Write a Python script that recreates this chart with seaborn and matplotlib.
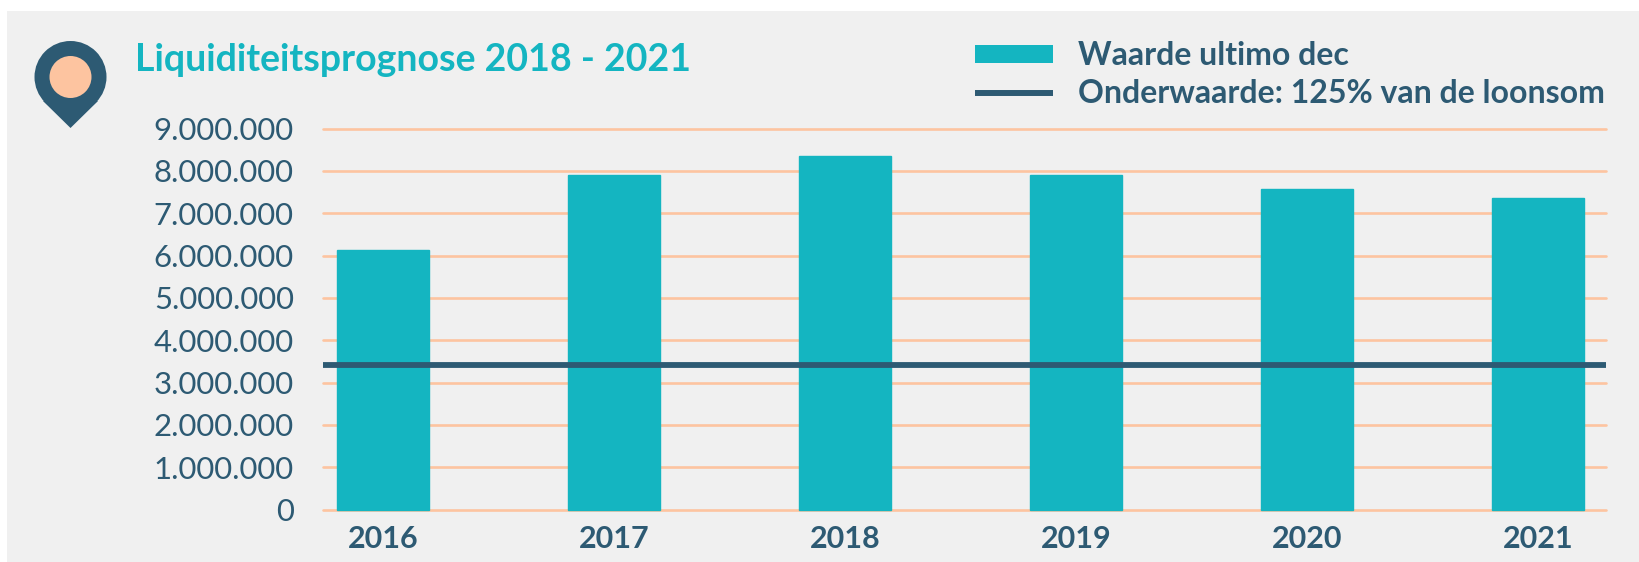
import pandas as pd
import matplotlib
matplotlib.use('Agg')
import matplotlib.pyplot as plt
import seaborn as sns
from matplotlib.lines import Line2D
from matplotlib.patches import Circle, Patch, Polygon, Rectangle
from matplotlib.ticker import FuncFormatter

# Waarden
jaren = ['2016', '2017', '2018', '2019', '2020', '2021']
waarde_ultimo_dec = [6130000, 7910000, 8360000, 7910000, 7570000, 7370000]
onderwaarde = 3420000
y_ticks = [0, 1000000, 2000000, 3000000, 4000000, 5000000, 6000000, 7000000, 8000000, 9000000]

titel = 'Liquiditeitsprognose 2018 - 2021'
label_bar = 'Waarde ultimo dec'
label_lijn = 'Onderwaarde: 125% van de loonsom'

TEAL = '#14b5c1'
DONKER = '#2d5a73'
PERZIK = '#fdc4a0'
PANEEL = '#f0f0f0'
W, H = 1640, 562

sns.set_style('white')
plt.rcParams['font.family'] = ['Lato', 'DejaVu Sans']

df = pd.DataFrame({'jaar': jaren, 'waarde': waarde_ultimo_dec})

fig = plt.figure(figsize=(W / 100, H / 100), dpi=100, facecolor='white')

# grijs paneel achter alles
fig.patches.append(Rectangle((7 / W, 0), 1 - 7 / W, 1 - 11 / H, transform=fig.transFigure,
                             facecolor=PANEEL, edgecolor='none', zorder=-5))

ax = fig.add_axes([323 / W, 1 - 509.5 / H, 1283 / W, 381 / H])
ax.set_facecolor('none')

sns.barplot(data=df, x='jaar', y='waarde', color=TEAL, saturation=1, width=0.4,
            edgecolor=TEAL, linewidth=1, clip_on=False, zorder=3, ax=ax)
ax.axhline(onderwaarde, color=DONKER, lw=4.2, zorder=4)

ax.set_xlim(-0.26, 5.294)
ax.set_ylim(0, 9000000)
ax.set_yticks(y_ticks)
ax.yaxis.set_major_formatter(FuncFormatter(lambda v, _: f'{int(v):,}'.replace(',', '.')))
ax.set_xlabel('')
ax.set_ylabel('')
ax.grid(axis='y', color=PERZIK, lw=1.9, clip_on=False)
ax.set_axisbelow(True)
sns.despine(ax=ax, left=True, bottom=True)
ax.tick_params(axis='both', length=0)
ax.tick_params(axis='y', labelsize=22.4, labelcolor=DONKER, pad=21)
ax.tick_params(axis='x', labelsize=22, labelcolor=DONKER, pad=11)
for lab in ax.get_xticklabels():
    lab.set_fontweight('bold')
for lab in ax.get_yticklabels():
    lab.set_fontweight('normal')

fig.text(135 / W, 1 - 71 / H, titel, color=TEAL, fontsize=27, fontweight='bold', va='baseline')

# legenda rechtsboven
handles = [Patch(facecolor=TEAL, edgecolor='none', label=label_bar),
           Line2D([0], [0], color=DONKER, lw=4.3, solid_capstyle='butt', label=label_lijn)]
leg = fig.legend(handles=handles, loc='upper left', bbox_to_anchor=(975 / W, 1 - 41 / H),
                 bbox_transform=fig.transFigure, frameon=False,
                 handlelength=2.45, handleheight=0.48, handletextpad=0.78, labelspacing=0.28,
                 borderpad=0, borderaxespad=0, labelcolor=DONKER, prop={'weight': 'bold', 'size': 23})

# kaart-pin icoon, in pixels getekend
pin = fig.add_axes([0, 0, 1, 1], facecolor='none')
pin.set_xlim(0, W)
pin.set_ylim(H, 0)
pin.axis('off')
pin.add_patch(Circle((70.5, 77), 36, color=DONKER, lw=0))
pin.add_patch(Polygon([(43, 101), (70.5, 128), (98, 101)], closed=True, color=DONKER, lw=0))
pin.add_patch(Circle((70.5, 77), 21, color=PERZIK, lw=0))

fig.savefig('out.png', dpi=100, facecolor=fig.get_facecolor())
